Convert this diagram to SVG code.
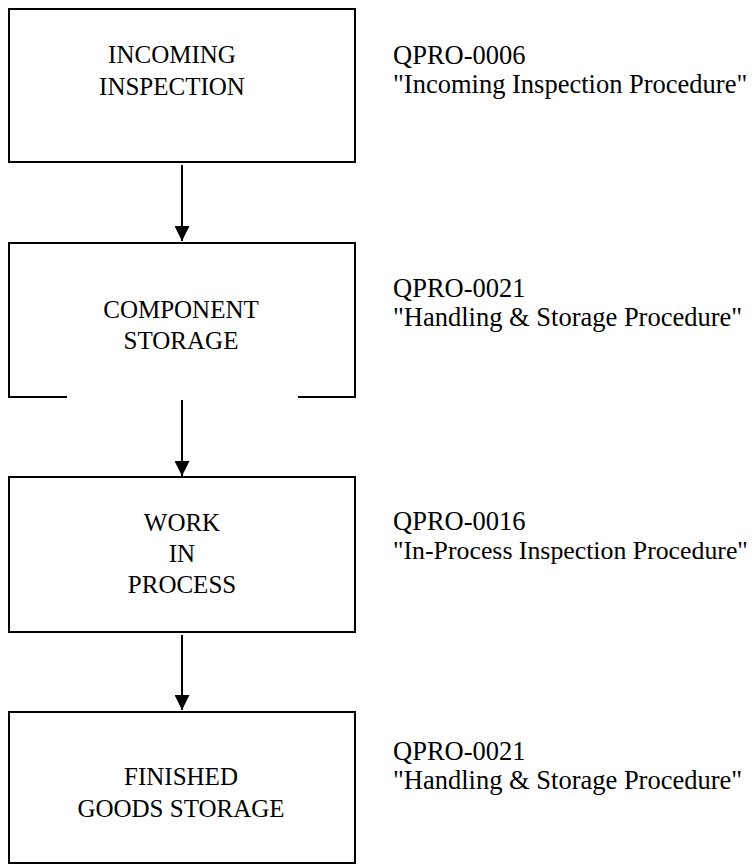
<svg xmlns="http://www.w3.org/2000/svg" width="755" height="865" viewBox="0 0 755 865">
<defs>
<style>
.box{fill:none;stroke:#000;stroke-width:2}
.con{fill:none;stroke:#000;stroke-width:2}
.lbl{font-family:"Liberation Serif","Times New Roman",serif;font-size:25px;fill:#000;text-anchor:middle}
.ref{font-family:"Liberation Serif","Times New Roman",serif;font-size:26.5px;fill:#000}
</style>
<marker id="ah" markerWidth="15" markerHeight="15" viewBox="0 0 15 15" refX="15" refY="7.5" orient="auto" markerUnits="userSpaceOnUse">
<path d="M0,0 L15,7.5 L0,15 Z" fill="#000"/>
</marker>
</defs>
<rect width="755" height="865" fill="#fff"/>
<g id="n1">
<rect class="box" x="9" y="9" width="346" height="153"/>
<text class="lbl" x="172" y="63">INCOMING</text>
<text class="lbl" x="172" y="95">INSPECTION</text>
</g>
<g id="r1">
<text class="ref" x="393" y="64">QPRO-0006</text>
<text class="ref" x="393" y="93">"Incoming Inspection Procedure"</text>
</g>
<g id="n2">
<path class="box" d="M67,397 H9 V243 H355 V397 H298"/>
<text class="lbl" x="181" y="318">COMPONENT</text>
<text class="lbl" x="181" y="349">STORAGE</text>
</g>
<g id="r2">
<text class="ref" x="393" y="297">QPRO-0021</text>
<text class="ref" x="393" y="326">"Handling &amp; Storage Procedure"</text>
</g>
<g id="n3">
<rect class="box" x="9" y="477" width="346" height="155"/>
<text class="lbl" x="182" y="531">WORK</text>
<text class="lbl" x="182" y="562">IN</text>
<text class="lbl" x="182" y="593">PROCESS</text>
</g>
<g id="r3">
<text class="ref" x="393" y="530">QPRO-0016</text>
<text class="ref" x="393" y="559" style="font-size:25.8px">"In-Process Inspection Procedure"</text>
</g>
<g id="n4">
<rect class="box" x="9" y="712" width="346" height="151"/>
<text class="lbl" x="181" y="785">FINISHED</text>
<text class="lbl" x="181" y="817">GOODS STORAGE</text>
</g>
<g id="r4">
<text class="ref" x="393" y="760">QPRO-0021</text>
<text class="ref" x="393" y="789">"Handling &amp; Storage Procedure"</text>
</g>
<g id="connectors">
<line class="con" x1="182" y1="165" x2="182" y2="241" marker-end="url(#ah)"/>
<line class="con" x1="182" y1="400" x2="182" y2="476" marker-end="url(#ah)"/>
<line class="con" x1="182" y1="635" x2="182" y2="710" marker-end="url(#ah)"/>
</g>
</svg>
